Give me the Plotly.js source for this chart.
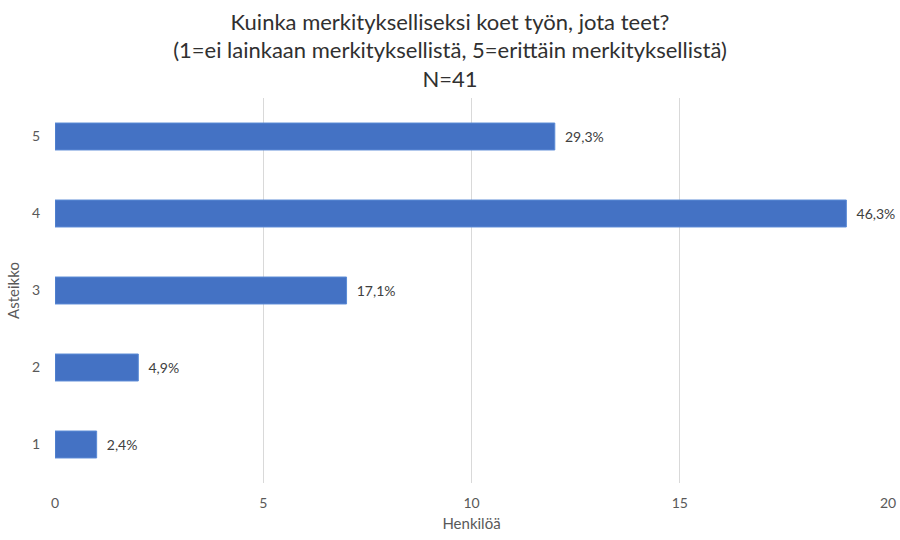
<!DOCTYPE html>
<html><head><meta charset="utf-8">
<script src="https://cdn.plot.ly/plotly-3.0.1.min.js"></script>
<style>body{margin:0;background:#fff}#chart{width:900px;height:540px}</style>
</head><body><div id="chart"></div>
<script>
const categories = ['1','2','3','4','5'];
const counts = [1, 2, 7, 19, 12];
const labels = ['2,4%','4,9%','17,1%','46,3%','29,3%'];
const xTicks = [0,5,10,15,20];

const trace = {
  type:'bar', orientation:'h',
  y: categories, x: counts,
  text: labels, texttemplate:'\u00a0\u00a0%{text}', textposition:'outside', cliponaxis:false,
  textfont:{family:'Lato, sans-serif', size:14, color:'#404040'},
  marker:{color:'#4472C4', line:{color:'#5B8BD6', width:1}},
  width:0.35, hoverinfo:'none'
};
const layout = {
  width:900, height:540,
  margin:{l:55, r:12, t:98, b:57},
  paper_bgcolor:'#fff', plot_bgcolor:'#fff',
  font:{family:'Lato, sans-serif', color:'#595959'},
  title:{text:'Kuinka merkitykselliseksi koet työn, jota teet?<br>(1=ei lainkaan merkityksellistä, 5=erittäin merkityksellistä)<br>N=41',
    font:{family:'Lato, sans-serif', size:22, color:'#303030'}, x:0.5, xanchor:'center', y:0.945, yanchor:'top', yref:'container'},
  xaxis:{range:[0,20], tickvals:xTicks, showgrid:true, gridcolor:'#D9D9D9', gridwidth:1, zeroline:false, showline:false,
    tickfont:{size:14, color:'#595959'}, ticks:'', ticklen:0, ticklabelstandoff:10,
    title:{text:'Henkilöä', font:{size:15, color:'#595959'}, standoff:8}},
  yaxis:{range:[-0.5,4.5], type:'category', showgrid:false, zeroline:false, showline:false, ticks:'',
    tickfont:{size:14, color:'#595959'}, ticklabelstandoff:14,
    title:{text:'Asteikko', font:{size:15, color:'#595959'}, standoff:8}},
  showlegend:false
};
Plotly.newPlot('chart',[trace],layout,{displayModeBar:false,staticPlot:true});
</script></body></html>
